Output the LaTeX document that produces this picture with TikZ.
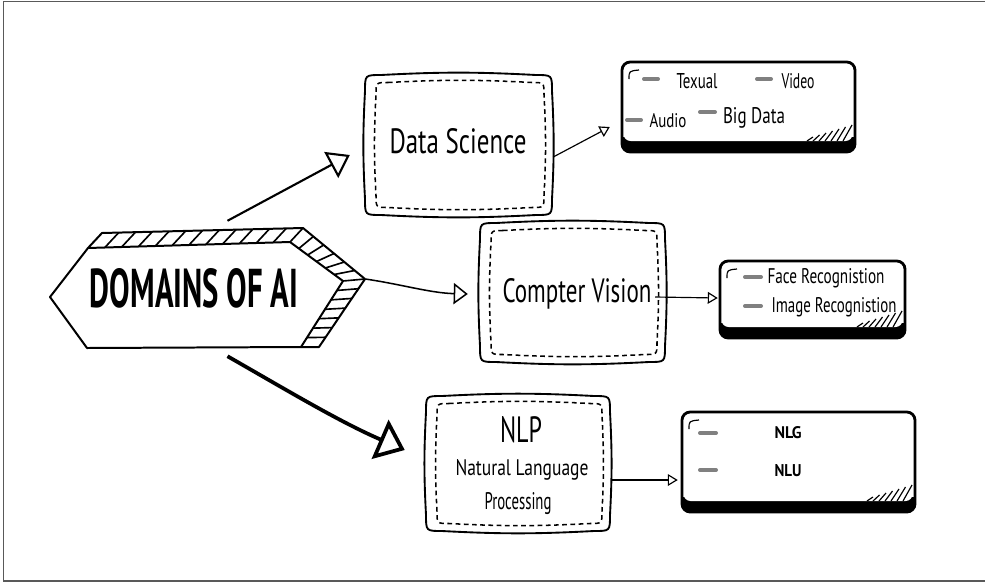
\documentclass[tikz,border=0pt]{standalone}
\usepackage{fontspec}
\newfontfamily\hand{PT Sans}
\usetikzlibrary{arrows.meta,calc,fit}
\newdimen\pxu \pxu=0.03cm
\newcommand\hw[3]{\resizebox{#1\pxu}{#2\pxu}{\hand #3}}
\newcommand\tvpath[5]{(#1+#5,#2) to[bend left=3] (#3-#5,#2) .. controls (#3,#2) .. (#3,#2+#5) to[bend left=3] (#3,#4-#5) .. controls (#3,#4) .. (#3-#5,#4) to[bend left=3] (#1+#5,#4) .. controls (#1,#4) .. (#1,#4-#5) to[bend left=3] (#1,#2+#5) .. controls (#1,#2) .. cycle}
\newcommand\tvbox[5]{%
  \node[inner sep=0, fit={(#2,#3)(#4,#5)}] (#1) {};
  \draw[tvout] \tvpath{#2}{#3}{#4}{#5}{16};
  \draw[tvin] \tvpath{#2+11}{#3+7.5}{#4-8}{#5-7.5}{12};
}
\newcommand\shbox[5]{%
  \node[inner sep=0, fit={(#2,#3)(#4,#5)}] (#1) {};
  \begin{scope}
    \clip (#2-3,#5-15) rectangle (#4+3,#5+3);
    \fill[rounded corners=7pt] (#2,#3) rectangle (#4,#5);
  \end{scope}
  \fill[white, rounded corners=6pt] (#2+1.5,#3+1.5) rectangle (#4-2.5,#5-11);
  \draw[line width=2.4pt, rounded corners=7pt] (#2,#3) rectangle (#4,#5);
  \foreach \i in {0,...,6} \draw[line width=1pt] (#4-48+6*\i,#5-11) -- (#4-42+6.5*\i,#5-15-2*\i);
  \draw[line width=1pt] (#2+7,#3+17) .. controls (#2+7,#3+9) .. (#2+17,#3+8);
}
\tikzset{
  tvout/.style={line width=1.6pt, line join=round},
  tvin/.style={line width=1.3pt, dash pattern=on 4pt off 3pt},
  bar/.style={line width=3.4pt, black!50, line cap=round},
  txt/.style={inner sep=0, anchor=base},
  hatch/.style={line width=1.4pt},
  hexline/.style={line width=1.7pt, line join=round},
  smallarr/.style={line width=1pt, -{Triangle[open, length=8.5pt, width=10pt]}},
}
\begin{document}
\begin{tikzpicture}[x=0.03cm, y=-0.03cm]
\useasboundingbox (0,0) rectangle (985,583);
\fill[white] (0,0) rectangle (985,583);
\draw[line width=1.7pt, black!65] (985,1.5) -- (3.5,1.5) -- (3.5,581) -- (985,581);

% ---- hexagon ----
\coordinate (P1) at (50,297);
\coordinate (P2) at (88,248);
\coordinate (P3) at (290,242);
\coordinate (P4) at (343,281);
\coordinate (P5) at (301,347);
\coordinate (P6) at (87,348);
\coordinate (Q2) at (102,233);
\coordinate (Q3) at (303,228);
\coordinate (Q4) at (365,279);
\coordinate (Q5) at (319,347);
\node[inner sep=0, fit=(P1)(Q3)(Q4)(Q5)(P6)] (domains) {};
\foreach \t in {1,...,11} \draw[hatch] ($(P2)!\t/12!(P3)$) -- ($(Q2)!\t/12!(Q3)$);
\foreach \t in {1,...,5} \draw[hatch] ($(P3)!\t/6!(P4)$) -- ($(Q3)!\t/6!(Q4)$);
\foreach \t in {1,...,6} \draw[hatch] ($(P4)!\t/7!(P5)$) -- ($(Q4)!\t/7!(Q5)$);
\draw[hexline] (P1) -- (P2) -- (P3) -- (P4) -- (P5) -- (P6) -- cycle;
\draw[hexline] (P2) -- (Q2) -- (Q3) -- (Q4) -- (Q5) -- (P5);
\draw[hatch] (P3) -- (Q3) (P4) -- (Q4);
\node[txt] (tdom) at (194,307) {\hw{208}{39}{\bfseries DOMAINS OF AI}};

% ---- middle boxes ----
\tvbox{ds}{365}{75}{552}{215}
\tvbox{cv}{480}{223}{665}{362}
\tvbox{nlp}{426}{396}{610}{531}
\node[txt] (tds) at (458,153) {\hw{137}{25}{Data Science}};
\node[txt] (tcv) at (577,302) {\hw{149}{24}{Compter Vision}};
\node[txt] (tnlp) at (521,442) {\hw{42}{26}{NLP}};
\node[txt] (tnl1) at (522,475) {\hw{133}{16}{Natural Language}};
\node[txt] (tnl2) at (518,509) {\hw{67}{17}{Processing}};

% ---- right boxes ----
\shbox{types}{622}{62}{855}{152}
\shbox{face}{720}{261}{905}{338}
\shbox{nlg}{682}{412}{915}{512}

\draw[bar] (644,79) -- (658,79);
\draw[bar] (757,79) -- (771,79);
\draw[bar] (627,120) -- (641,120);
\draw[bar] (700,112) -- (715,112);
\draw[bar] (745,277) -- (761,277);
\draw[bar] (745,306) -- (761,306);
\draw[bar] (700,433) -- (716,433);
\draw[bar] (700,470) -- (716,470);

\node[txt] (ttex) at (697,88) {\hw{41}{15}{Texual}};
\node[txt] (tvid) at (798,88) {\hw{33}{15}{Video}};
\node[txt] (taud) at (668,127) {\hw{37}{14}{Audio}};
\node[txt] (tbig) at (754,123) {\hw{62}{16}{Big Data}};
\node[txt] (tface) at (826,283) {\hw{117}{15}{Face Recognistion}};
\node[txt] (timg) at (834,312) {\hw{125}{15}{Image Recognistion}};
\node[txt] (tnlg) at (788,438) {\hw{27}{12}{\bfseries NLG}};
\node[txt] (tnlu) at (788,476) {\hw{27}{12}{\bfseries NLU}};

% ---- connectors ----
\draw[line width=1.8pt, -{Triangle[open, length=18pt, width=25pt]}]
  ($(domains.north)+(20,-7)$) -- ($(ds.west)+(-15,10)$);
\draw[line width=1.3pt, -{Triangle[open, length=12pt, width=18pt]}]
  ($(domains.east)+(0,-9)$) .. controls (400,284) and (430,293) .. ($(cv.west)+(-12,1.5)$);
\draw[line width=3.2pt, -{Triangle[open, length=23pt, width=36pt]}]
  ($(domains.south)+(20,8)$) .. controls (290,392) and (340,422) .. ($(nlp.west)+(-21,-13.5)$);
\draw[smallarr] ($(ds.east)+(1,12)$) -- ($(types.west)+(-12,20)$);
\draw[smallarr] ($(cv.east)+(-10,4.5)$) -- ($(face.west)+(-2,-1.5)$);
\draw[smallarr] ($(nlp.east)+(1,16.5)$) -- ($(nlg.west)+(-4,18)$);
\end{tikzpicture}
\end{document}
